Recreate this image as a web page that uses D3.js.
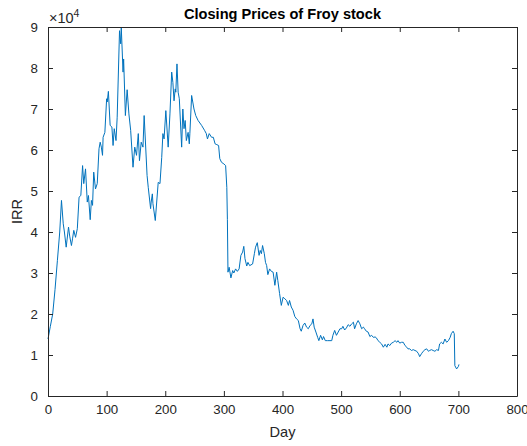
<!DOCTYPE html>
<html>
<head>
<meta charset="utf-8">
<script src="https://cdn.jsdelivr.net/npm/d3@7"></script>
<style>
  html, body { margin: 0; padding: 0; background: #fff; }
  svg { display: block; font-family: "Liberation Sans", Arial, Helvetica, sans-serif; }
</style>
</head>
<body>
<svg id="chart" width="527" height="446"></svg>
<script>
// ---- Data ----
const days = [0,4,8,12,16,20,23,26,28,31,35,37,40,42,44,47,50,53,56,59,61,64,67,69,72,74,76,78,81,84,87,89,91,93,94,97,100,101,103,106,109,111,113,116,118,122,124,125,128,129,132,135,138,141,145,148,151,154,156,159,162,164,169,171,175,176,178,179,183,188,191,194,196,198,201,205,208,211,213,215,217,218,220,222,224,228,230,232,234,236,239,241,242,245,249,252,256,262,267,270,272,275,279,282,285,288,291,293,296,300,303,305,306,307,309,312,315,317,320,323,326,329,332,334,336,339,341,344,349,352,354,357,360,362,364,366,369,371,373,375,378,381,384,387,390,392,395,398,401,404,407,410,412,415,418,421,424,427,430,432,435,438,441,444,447,450,452,454,457,460,462,465,468,470,473,477,481,484,486,489,492,495,498,501,503,506,509,512,515,518,521,523,526,529,532,535,538,540,543,546,549,552,555,558,560,563,566,569,572,575,578,580,583,586,589,592,595,597,600,603,606,609,612,614,617,620,623,626,629,632,634,637,640,643,646,649,651,654,657,660,663,666,668,671,674,677,680,683,686,688,691,693,694,697,700,701];
const price = [13900,17000,20000,26000,33000,40000,47700,42000,40000,36300,41200,39000,36700,38500,40400,38700,40800,48500,48900,56200,51800,55400,47300,48900,43000,47700,46500,54600,50500,51800,60300,61900,60700,58700,63100,64300,72500,71700,74300,66000,65600,61100,65200,62300,68000,89100,85900,89900,79000,82200,68400,74700,68800,64800,55800,60700,58700,64000,57400,61900,60700,68400,53800,50900,45700,47300,49300,46900,42800,52100,51800,58200,64000,62700,69600,60700,68800,79000,76500,72000,74900,74100,81000,74100,72500,60700,70000,65200,67200,62300,64300,61500,64000,73300,70000,68400,67200,66000,64800,64000,62700,64000,63100,63100,61500,61300,61100,57900,57000,56600,56200,50900,43000,30200,31400,28800,30600,30000,31000,30400,31000,34300,35100,36500,33500,31700,32600,31800,32200,34700,36300,37400,34300,35500,34700,36700,34700,32600,31800,29600,31000,30400,30200,27000,30200,28200,25000,22100,24100,23700,23300,22100,23300,21700,20900,19400,18800,18400,16400,15800,17200,17800,16800,16400,17200,17600,18800,16800,15600,14300,13500,14800,13700,14500,13500,13500,13500,13500,14800,16000,14800,15600,16400,16400,17000,16100,16600,17400,17000,17600,18000,16400,17600,18400,17600,16400,16800,16400,15800,15600,14500,14800,14300,14400,14200,13500,13100,12700,11900,12600,11900,12700,12300,12900,13100,13500,13100,13500,12900,13100,13100,12300,11900,11500,11500,11100,11300,11100,10900,10300,9600,10300,10900,11300,11500,10900,11100,11300,11100,10900,11300,11100,12700,13100,12700,13900,13100,13500,14300,15200,15800,15200,7400,6600,7200,7700];
const xTicks = [0,100,200,300,400,500,600,700,800];
const yTicks = [0,10000,20000,30000,40000,50000,60000,70000,80000,90000];
const titleText = "Closing Prices of Froy stock";
const xLabel = "Day";
const yLabel = "IRR";

// ---- Layout ----
const svg = d3.select("#chart");
const L = 48, R = 517, T = 27, B = 396;
const axisColor = "#262626";
const tickLen = 5;

const x = d3.scaleLinear().domain([0, 800]).range([L, R]);
const y = d3.scaleLinear().domain([0, 90000]).range([B, T]);

// Line
const pts = days.map((d, i) => [d, price[i]]);
const line = d3.line().x(d => x(d[0])).y(d => y(d[1]));
svg.append("path")
  .datum(pts)
  .attr("d", line)
  .attr("fill", "none")
  .attr("stroke", "#0072BD")
  .attr("stroke-width", 1)
  .attr("stroke-linejoin", "round");

// Axes (MATLAB-like box with inward ticks)
const fmtY = d => d3.format("d")(d / 10000);
const xAxisB = d3.axisBottom(x).tickValues(xTicks).tickSizeInner(-tickLen).tickSizeOuter(0).tickPadding(9);
const xAxisT = d3.axisTop(x).tickValues(xTicks).tickSizeInner(-tickLen).tickSizeOuter(0).tickFormat("");
const yAxisL = d3.axisLeft(y).tickValues(yTicks).tickSizeInner(-tickLen).tickSizeOuter(0).tickPadding(10).tickFormat(fmtY);
const yAxisR = d3.axisRight(y).tickValues(yTicks).tickSizeInner(-tickLen).tickSizeOuter(0).tickFormat("");

function style(g) {
  g.select(".domain").attr("stroke", axisColor).attr("stroke-width", 1);
  g.selectAll(".tick line").attr("stroke", axisColor).attr("stroke-width", 1);
  g.selectAll(".tick text").attr("fill", axisColor).style("font-size", "13.3px")
    .style("font-family", '"Liberation Sans", Arial, Helvetica, sans-serif');
}
svg.append("g").attr("transform", `translate(0,${B})`).call(xAxisB).call(style);
svg.append("g").attr("transform", `translate(0,${T})`).call(xAxisT).call(style);
svg.append("g").attr("transform", `translate(${L},0)`).call(yAxisL).call(style);
svg.append("g").attr("transform", `translate(${R},0)`).call(yAxisR).call(style);

// Exponent label
const ex = svg.append("text").attr("x", L + 1).attr("y", 23)
  .attr("fill", axisColor).style("font-size", "14.5px");
ex.append("tspan").text("\u00d710");
ex.append("tspan").attr("dy", -6).style("font-size", "10.5px").text("4");

// Title
svg.append("text").attr("x", (L + R) / 2).attr("y", 19)
  .attr("text-anchor", "middle").attr("fill", "#000")
  .style("font-size", "14.6px").style("font-weight", "bold").text(titleText);

// Axis labels
svg.append("text").attr("x", (L + R) / 2).attr("y", 437)
  .attr("text-anchor", "middle").attr("fill", axisColor)
  .style("font-size", "14.6px").text(xLabel);
svg.append("text").attr("transform", `translate(22,${(T + B) / 2}) rotate(-90)`)
  .attr("text-anchor", "middle").attr("fill", axisColor)
  .style("font-size", "14.6px").text(yLabel);
</script>
</body>
</html>
